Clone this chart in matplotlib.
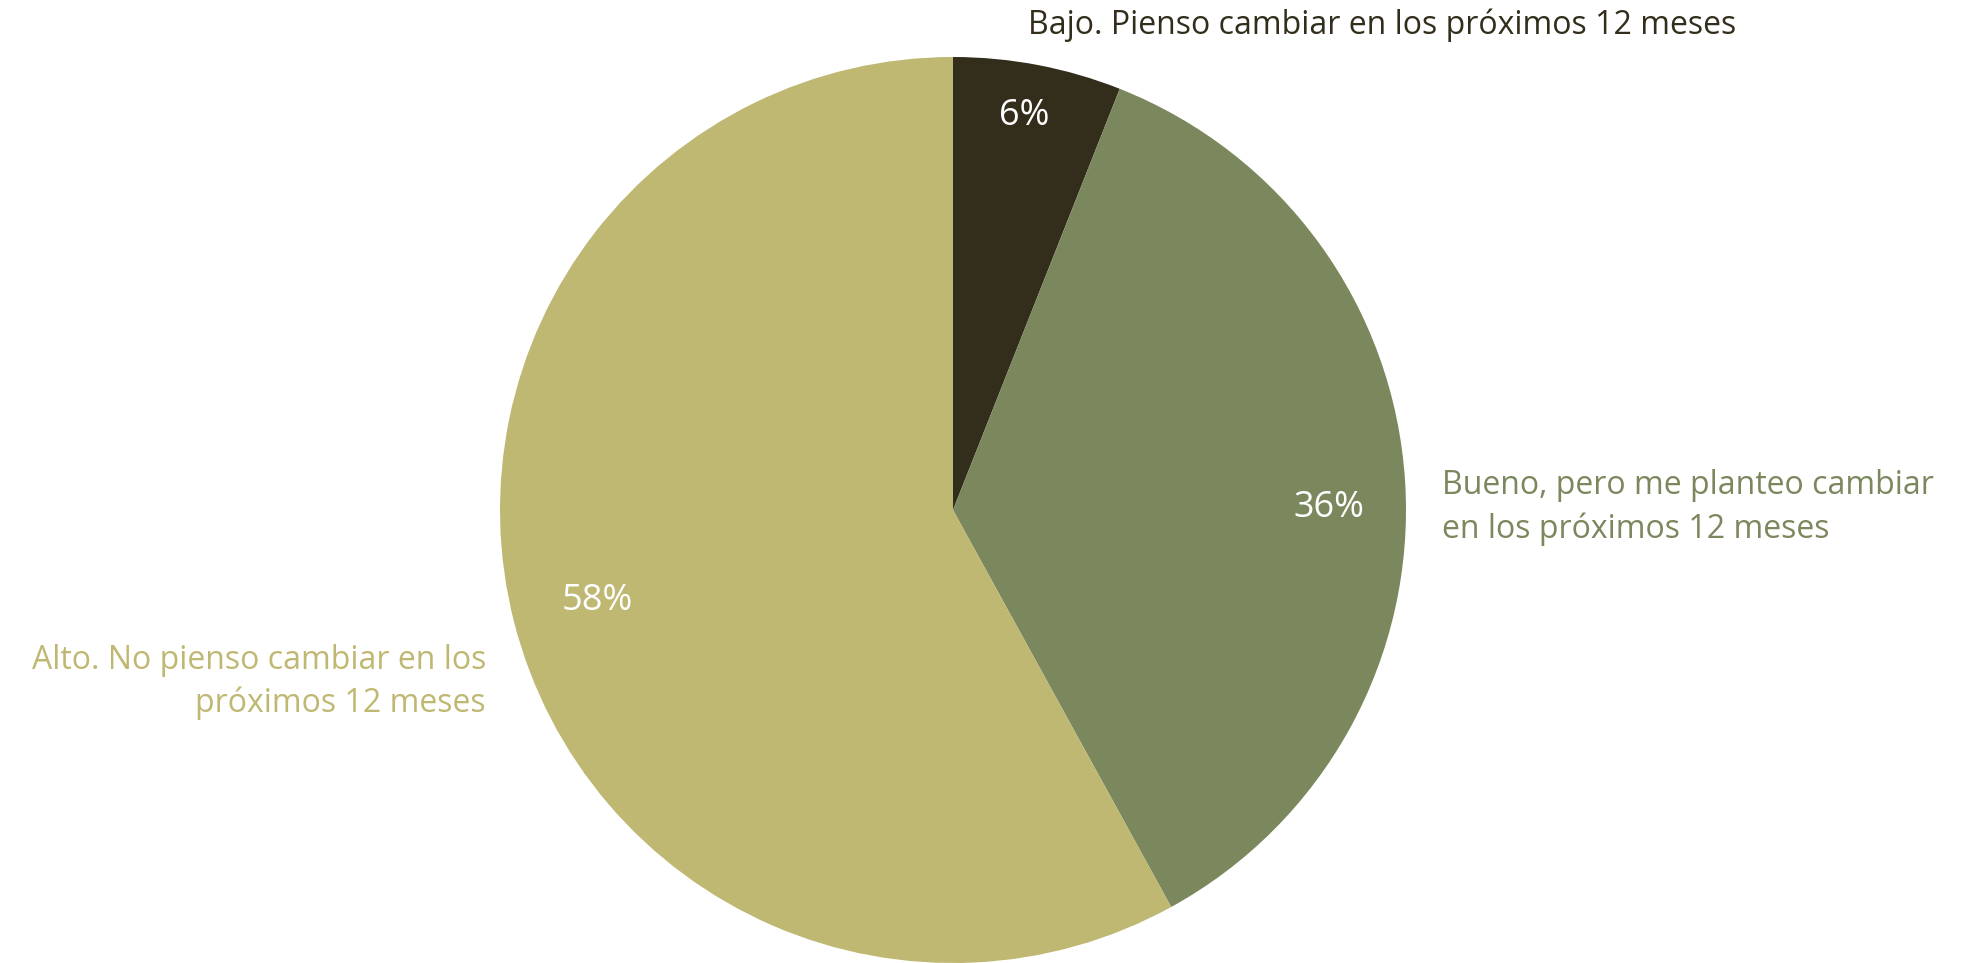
import numpy as np
import matplotlib
matplotlib.use("Agg")
import matplotlib.pyplot as plt

plt.rcParams['font.family'] = ['Open Sans', 'DejaVu Sans']

# Survey answers: share of respondents per level
categories = [
    "Bajo. Pienso cambiar en los próximos 12 meses",
    "Bueno, pero me planteo cambiar\nen los próximos 12 meses",
    "Alto. No pienso cambiar en los\npróximos 12 meses",
]
values = [6, 36, 58]
colors = ["#332d1b", "#7b875d", "#bfb872"]

fig = plt.figure(figsize=(19.66, 9.63), dpi=100)
W, H = 1966, 963
cx, cy, r = 953, 453, 453
ax = fig.add_axes([(cx - r) / W, (cy - r) / H, 2 * r / W, 2 * r / H])

wedges, _ = ax.pie(values, colors=colors, startangle=90, counterclock=False,
                   radius=1, wedgeprops=dict(linewidth=0))
ax.set_xlim(-1, 1)
ax.set_ylim(-1, 1)
ax.set_aspect('equal')
ax.axis('off')

# percentage labels inside each slice (distance from centre, angle nudge)
pct_dist = [0.885, 0.83, 0.81]
pct_nudge = [0.5, -3.3, 0.0]
for w, v, d, dn in zip(wedges, values, pct_dist, pct_nudge):
    ang = np.deg2rad((w.theta1 + w.theta2) / 2 + dn)
    ax.text(d * np.cos(ang), d * np.sin(ang), f"{v}%", color="white",
            fontsize=26, ha='center', va='center')

# category labels outside the pie
ax.text(0.166, 1.071, categories[0], color=colors[0], fontsize=23,
        ha='left', va='center')
ax.text(1.079, 0.005, categories[1], color=colors[1], fontsize=23,
        ha='left', va='center', linespacing=1.4)
ax.text(-1.031, -0.38, categories[2], color=colors[2], fontsize=23,
        ha='right', va='center', multialignment='right', linespacing=1.4)

fig.savefig("out.png", dpi=100)
